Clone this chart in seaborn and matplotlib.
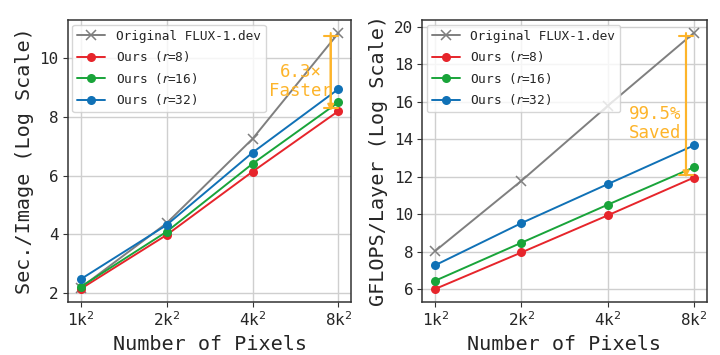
import pandas as pd
import seaborn as sns
import matplotlib.pyplot as plt

# resolutions on the x axis
pixels = ['1k$^2$', '2k$^2$', '4k$^2$', '8k$^2$']

# latency (log2 of seconds / image)
latency_orig = [2.17, 4.37, 7.25, 10.86]
latency_r8 = [2.13, 3.97, 6.13, 8.2]
latency_r16 = [2.2, 4.08, 6.4, 8.5]
latency_r32 = [2.46, 4.31, 6.78, 8.95]

# compute (log2 of GFLOPS / layer)
flops_orig = [8.03, 11.78, 15.78, 19.68]
flops_r8 = [6.0, 7.95, 9.93, 11.95]
flops_r16 = [6.44, 8.47, 10.5, 12.5]
flops_r32 = [7.27, 9.52, 11.6, 13.67]

series_names = ['Original FLUX-1.dev', 'Ours ($r$=8)', 'Ours ($r$=16)', 'Ours ($r$=32)']
colors = ['#7f7f7f', '#e6252b', '#19a43a', '#1071b6']
markers = ['x', 'o', 'o', 'o']
accent = '#fdb42a'

sns.set_style('whitegrid')
plt.rcParams['font.family'] = ['DejaVu Sans Mono', 'DejaVu Sans']
plt.rcParams['mathtext.fontset'] = 'dejavusans'


def draw_panel(ax, values, ylabel, yticks, arrow_top, arrow_bottom, note, note_x, note_y):
    for name, vals, color, marker in zip(series_names, values, colors, markers):
        df = pd.DataFrame({'x': range(len(pixels)), 'y': vals})
        sns.lineplot(data=df, x='x', y='y', ax=ax, color=color, marker=marker,
                     markersize=6.5 if marker == 'o' else 7,
                     markeredgewidth=1.1 if marker == 'x' else 0,
                     markeredgecolor=color, linewidth=1.4, label=name)
    ax.set_xticks(range(len(pixels)))
    ax.set_xticklabels(pixels)
    ax.set_yticks(yticks)
    ax.set_xlabel('Number of Pixels', fontsize=14.5)
    ax.set_ylabel(ylabel, fontsize=14.5)
    ax.tick_params(axis='both', labelsize=11.5, length=3.5, width=0.8, color='#333333',
                   bottom=True, left=True, pad=3)
    ax.grid(True, color='#cfcfcf', linewidth=1)
    for sp in ax.spines.values():
        sp.set_color('#333333')
        sp.set_linewidth(1.1)
    ax.annotate('', xy=(2.91, arrow_bottom), xytext=(2.91, arrow_top),
                arrowprops=dict(arrowstyle='|-|', color=accent, lw=1.5, mutation_scale=5))
    ax.annotate('', xy=(2.91, arrow_bottom), xytext=(2.91, arrow_top),
                arrowprops=dict(arrowstyle='-|>', color=accent, lw=1.5, mutation_scale=9,
                                shrinkA=0, shrinkB=0))
    ax.text(note_x, note_y, note, color=accent, fontsize=12.5, ha='center', va='center',
            linespacing=1.1)
    leg = ax.legend(loc='upper left', fontsize=9.2, frameon=True, borderaxespad=0.35,
                    handlelength=2.2, labelspacing=0.5, fancybox=True)
    leg.get_frame().set_edgecolor('#cccccc')


fig = plt.figure(figsize=(7.2, 3.55), dpi=100)
ax1 = fig.add_axes([0.094, 0.150, 0.394, 0.793])
ax2 = fig.add_axes([0.5865, 0.150, 0.395, 0.793])

draw_panel(ax1, [latency_orig, latency_r8, latency_r16, latency_r32],
           'Sec./Image (Log Scale)', [2, 4, 6, 8, 10], latency_orig[-1], latency_r8[-1],
           '6.3\u00d7\nFaster', 2.56, 9.2)
draw_panel(ax2, [flops_orig, flops_r8, flops_r16, flops_r32],
           'GFLOPS/Layer (Log Scale)', [6, 8, 10, 12, 14, 16, 18, 20], flops_orig[-1], flops_r8[-1],
           '99.5%\nSaved', 2.55, 14.85)

fig.savefig('out.png', dpi=100)
